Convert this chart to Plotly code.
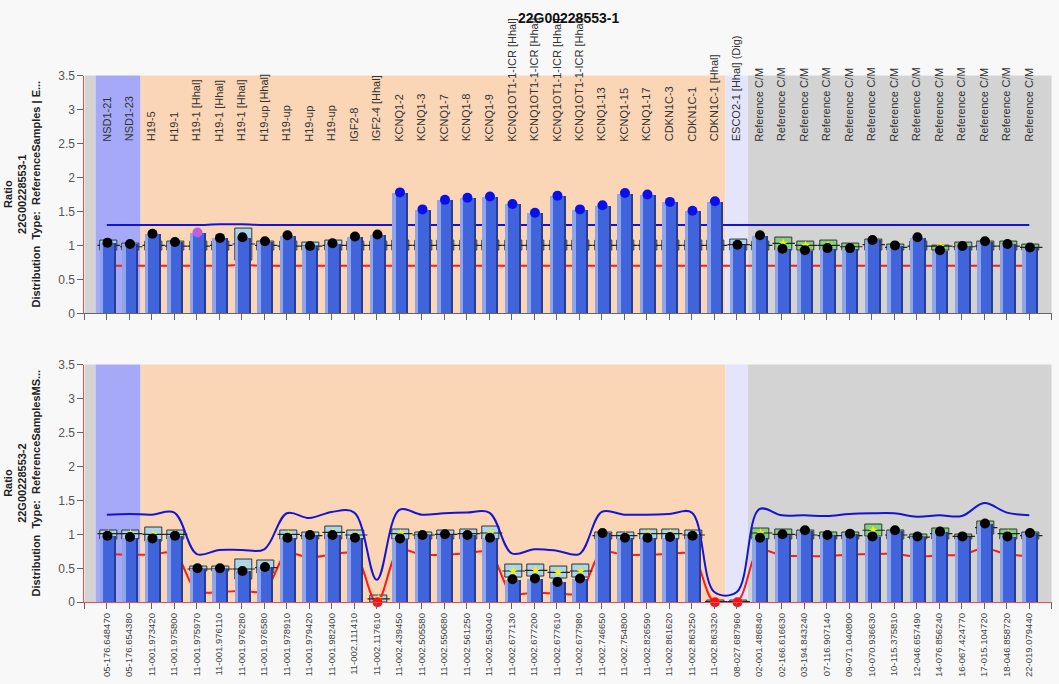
import plotly.graph_objects as go

title = "22G00228553-1"

probe_names = [
    "NSD1-21", "NSD1-23", "H19-5", "H19-1", "H19-1 [Hhal]", "H19-1 [Hhal]", "H19-1 [Hhal]",
    "H19-up [Hhal]", "H19-up", "H19-up", "H19-up", "IGF2-8", "IGF2-4 [Hhal]",
    "KCNQ1-2", "KCNQ1-3", "KCNQ1-7", "KCNQ1-8", "KCNQ1-9",
    "KCNQ1OT1-1-ICR [Hhal]", "KCNQ1OT1-1-ICR [Hhal]", "KCNQ1OT1-1-ICR [Hhal]", "KCNQ1OT1-1-ICR [Hhal]",
    "KCNQ1-13", "KCNQ1-15", "KCNQ1-17", "CDKN1C-3", "CDKN1C-1", "CDKN1C-1 [Hhal]",
    "ESCO2-1 [Hhal] (Dig)",
] + ["Reference C/M"] * 13

probe_positions = [
    "05-176.648470", "05-176.654380", "11-001.973420", "11-001.975800", "11-001.975970",
    "11-001.976110", "11-001.976280", "11-001.976580", "11-001.978910", "11-001.979420",
    "11-001.982400", "11-002.111410", "11-002.117610", "11-002.439450", "11-002.505580",
    "11-002.550680", "11-002.561250", "11-002.563040", "11-002.677130", "11-002.677200",
    "11-002.677610", "11-002.677980", "11-002.746650", "11-002.754800", "11-002.826590",
    "11-002.861620", "11-002.863250", "11-002.863320", "08-027.687960", "02-001.486840",
    "02-166.616630", "03-194.843240", "07-116.907140", "09-071.040800", "10-070.936630",
    "10-115.375810", "12-046.657490", "14-076.856240", "16-067.424770", "17-015.104720",
    "18-046.858720", "22-019.079440",
]

probe_group = ["NSD1"] * 2 + ["11p15"] * 26 + ["ESCO2"] + ["ref"] * 13

# panel 1 (undigested)
top_ratio = [1.04, 1.02, 1.17, 1.05, 1.19, 1.11, 1.12, 1.06, 1.15, 0.99, 1.03, 1.13, 1.16,
             1.78, 1.53, 1.67, 1.70, 1.72, 1.61, 1.48, 1.73, 1.53, 1.59, 1.77, 1.75, 1.64, 1.51, 1.65,
             1.01, 1.15, 0.95, 0.93, 0.96, 0.96, 1.08, 1.00, 1.12, 0.93, 0.99, 1.06, 1.02, 0.97]
top_box_lo = [0.93, 0.93, 0.93, 0.93, 0.93, 0.93, 0.78, 0.93, 0.93, 0.93, 0.93, 0.93, 0.93,
              0.93, 0.93, 0.93, 0.93, 0.93, 0.93, 0.93, 0.93, 0.93, 0.93, 0.93, 0.93, 0.93, 0.93, 0.93,
              0.93, 0.93, 0.93, 0.93, 0.93, 0.93, 0.93, 0.93, 0.93, 0.93, 0.93, 0.93, 0.93, 0.93]
top_box_hi = [1.07, 1.03, 1.06, 1.05, 1.05, 1.06, 1.25, 1.06, 1.05, 1.04, 1.07, 1.06, 1.06,
              1.07, 1.07, 1.07, 1.07, 1.07, 1.07, 1.07, 1.07, 1.07, 1.07, 1.07, 1.07, 1.07, 1.07, 1.07,
              1.09, 1.06, 1.12, 1.05, 1.07, 1.03, 1.08, 1.01, 1.05, 1.00, 1.04, 1.05, 1.05, 1.01]
top_box_mid = [1.00, 0.98, 1.00, 0.99, 0.99, 1.00, 1.02, 1.00, 0.99, 0.99, 1.00, 1.00, 1.00,
               1.00, 1.00, 1.00, 1.00, 1.00, 1.00, 1.00, 1.00, 1.00, 1.00, 1.00, 1.00, 1.00, 1.00, 1.00,
               1.01, 1.00, 1.03, 1.00, 1.00, 0.98, 1.01, 0.97, 0.99, 0.99, 0.98, 0.99, 0.99, 0.97]
top_upper = [1.30, 1.30, 1.30, 1.30, 1.30, 1.31, 1.31, 1.30, 1.30, 1.30, 1.30, 1.30, 1.30,
             1.30, 1.30, 1.30, 1.30, 1.30, 1.30, 1.30, 1.30, 1.30, 1.30, 1.30, 1.30, 1.30, 1.30, 1.30,
             1.30, 1.30, 1.30, 1.30, 1.30, 1.30, 1.30, 1.30, 1.30, 1.30, 1.30, 1.30, 1.30, 1.30]
top_lower = [0.70, 0.70, 0.70, 0.70, 0.70, 0.70, 0.71, 0.70, 0.70, 0.70, 0.70, 0.70, 0.70,
             0.70, 0.70, 0.70, 0.70, 0.70, 0.70, 0.70, 0.70, 0.70, 0.70, 0.70, 0.70, 0.70, 0.70, 0.70,
             0.70, 0.70, 0.70, 0.70, 0.70, 0.70, 0.70, 0.70, 0.70, 0.70, 0.70, 0.70, 0.70, 0.70]

# panel 2 (digested)
bottom_ratio = [0.98, 0.96, 0.94, 0.98, 0.50, 0.50, 0.46, 0.52, 0.95, 0.99, 0.99, 0.95, 0.00,
                0.94, 0.99, 1.00, 0.99, 0.95, 0.34, 0.35, 0.30, 0.35, 1.02, 0.95, 0.95, 0.96, 0.98,
                0.00, 0.00,
                0.95, 1.00, 1.06, 0.99, 1.01, 0.97, 1.06, 0.97, 1.04, 0.97, 1.16, 0.97, 1.02]
bottom_box_lo = [0.93, 0.93, 0.90, 0.93, 0.45, 0.45, 0.34, 0.42, 0.93, 0.93, 0.93, 0.93, 0.00,
                 0.93, 0.93, 0.93, 0.93, 0.93, 0.37, 0.38, 0.35, 0.36, 0.93, 0.93, 0.93, 0.93, 0.93,
                 0.00, 0.00,
                 0.93, 0.93, 0.93, 0.93, 0.93, 0.97, 0.93, 0.93, 0.93, 0.93, 1.00, 0.93, 0.93]
bottom_box_hi = [1.05, 1.05, 1.10, 1.05, 0.52, 0.52, 0.63, 0.61, 1.05, 1.02, 1.11, 1.05, 0.10,
                 1.07, 1.03, 1.06, 1.07, 1.12, 0.55, 0.56, 0.53, 0.56, 1.02, 1.02, 1.07, 1.07, 1.05,
                 0.02, 0.02,
                 1.08, 1.07, 1.05, 1.02, 1.03, 1.15, 1.05, 0.99, 1.08, 1.00, 1.19, 1.07, 1.03]
bottom_box_mid = [1.01, 1.01, 1.00, 1.00, 0.49, 0.49, 0.49, 0.51, 1.00, 0.98, 1.03, 0.99, 0.05,
                  1.01, 0.99, 1.00, 1.01, 1.02, 0.46, 0.47, 0.44, 0.46, 0.98, 0.98, 1.01, 1.01, 0.99,
                  0.01, 0.01,
                  1.02, 1.00, 0.99, 0.98, 0.98, 1.06, 0.99, 0.96, 1.01, 0.97, 1.10, 1.01, 0.98]
bottom_upper = [1.29, 1.30, 1.29, 1.32, 0.71, 0.77, 0.77, 0.78, 1.31, 1.24, 1.33, 1.32, 0.33,
                1.36, 1.29, 1.31, 1.32, 1.32, 0.72, 0.78, 0.76, 0.71, 1.33, 1.29, 1.29, 1.30, 1.32,
                0.15, 0.15,
                1.37, 1.28, 1.28, 1.27, 1.30, 1.31, 1.31, 1.26, 1.28, 1.27, 1.46, 1.32, 1.28]
bottom_lower = [0.71, 0.70, 0.70, 0.72, 0.17, 0.15, 0.17, 0.17, 0.71, 0.66, 0.70, 0.71, 0.00,
                0.76, 0.70, 0.70, 0.72, 0.73, 0.14, 0.14, 0.13, 0.14, 0.73, 0.70, 0.70, 0.71, 0.70,
                0.00, 0.00,
                0.76, 0.69, 0.68, 0.68, 0.70, 0.71, 0.71, 0.67, 0.69, 0.70, 0.79, 0.71, 0.68]

ytitles = [
    "<b>Ratio</b><br><b>22G00228553-1</b><br><b>Distribution&nbsp; Type:&nbsp; ReferenceSamples | E...</b>",
    "<b>Ratio</b><br><b>22G00228553-2</b><br><b>Distribution&nbsp; Type:&nbsp; ReferenceSamplesMS...</b>",
]

cats = list(range(1, len(probe_names) + 1))
n = len(cats)
FONT = "Liberation Sans, Arial, sans-serif"
band_colors = {"NSD1": "#a6a9f8", "11p15": "#fad6b6", "ESCO2": "#e4e4fb", "ref": "#d3d3d3"}
W, H = 1059, 684
x_dom = [84.3 / W, 1051.8 / W]
y_doms = [[1 - 312.7 / H, 1 - 70 / H], [1 - 607.7 / H, 1 - 365 / H]]

fig = go.Figure()
shapes = []
annotations = []

panels = [
    (top_ratio, top_box_lo, top_box_hi, top_box_mid, top_upper, top_lower),
    (bottom_ratio, bottom_box_lo, bottom_box_hi, bottom_box_mid, bottom_upper, bottom_lower),
]

for p, (ratio, blo, bhi, bmid, up, lo) in enumerate(panels):
    xa = "x" if p == 0 else "x2"
    ya = "y" if p == 0 else "y2"
    yo = "y3" if p == 0 else "y4"

    # background bands
    shapes.append(dict(type="rect", xref=xa, yref=ya + " domain", x0=0, x1=0.5, y0=0, y1=1,
                       fillcolor="#d3d3d3", line_width=0, layer="below"))
    start = 0
    for i in range(1, n + 1):
        if i == n or probe_group[i] != probe_group[start]:
            x1 = i + 0.5 if i < n else n + 1
            shapes.append(dict(type="rect", xref=xa, yref=ya + " domain", x0=start + 0.5, x1=x1,
                               y0=0, y1=1, fillcolor=band_colors[probe_group[start]],
                               line_width=0, layer="below"))
            start = i

    # reference range boxes, sitting behind the sample bars
    box_col = ["#7fd37f" if g == "ref" else "#a9d6ee" for g in probe_group]
    fig.add_trace(go.Bar(x=cats, y=[h - l for h, l in zip(bhi, blo)], base=blo, width=0.75, offset=-0.29,
                         marker=dict(color=box_col, line=dict(color="#333333", width=1)),
                         xaxis=xa, yaxis=ya, showlegend=False, hoverinfo="skip"))
    fig.add_trace(go.Scatter(x=cats, y=lo, mode="lines", line=dict(color="#ff1a1a", width=2, shape="spline"),
                             xaxis=xa, yaxis=ya, showlegend=False))
    fig.add_trace(go.Scatter(x=cats, y=up, mode="lines", line=dict(color="#1414d2", width=2, shape="spline"),
                             xaxis=xa, yaxis=ya, showlegend=False))
    fig.add_trace(go.Scatter(x=[c + 0.085 for c in cats], y=bmid, mode="markers",
                             marker=dict(symbol="line-ew", size=16, line=dict(color="#222222", width=1.2)),
                             xaxis=xa, yaxis=ya, showlegend=False))
    fig.add_trace(go.Scatter(x=[c + 0.06 for c in cats], y=bmid, mode="markers",
                             marker=dict(symbol="star", size=7, color="#f4f400"),
                             xaxis=xa, yaxis=ya, showlegend=False))

    # sample bars with a lighter left strip and a dark right edge
    fig.add_trace(go.Bar(x=cats, y=ratio, width=0.70, offset=-0.30, marker=dict(color="#8ea5ec", line_width=0),
                         xaxis=xa, yaxis=yo, showlegend=False))
    fig.add_trace(go.Bar(x=cats, y=ratio, width=0.49, offset=-0.15, marker=dict(color="#3f64dc", line_width=0),
                         xaxis=xa, yaxis=yo, showlegend=False))
    fig.add_trace(go.Bar(x=cats, y=ratio, width=0.06, offset=0.34, marker=dict(color="#283c94", line_width=0),
                         xaxis=xa, yaxis=yo, showlegend=False))

    dot_col = []
    for i, v in enumerate(ratio):
        if v > up[i]:
            dot_col.append("#0a10e8")
        elif v <= lo[i]:
            dot_col.append("#ff1010")
        else:
            dot_col.append("black")
    if p == 0:
        dot_col[4] = "#c060d8"  # flagged probe (H19-1 [Hhal])
    fig.add_trace(go.Scatter(x=[c + 0.03 for c in cats], y=ratio, mode="markers", cliponaxis=False,
                             marker=dict(size=10, color=dot_col),
                             xaxis=xa, yaxis=yo, showlegend=False))

    annotations.append(dict(xref="paper", yref="paper", x=22 / W, y=sum(y_doms[p]) / 2,
                            xanchor="center", yanchor="middle",
                            text=ytitles[p], textangle=-90, showarrow=False,
                            font=dict(family=FONT, size=11, color="#222222")))

# probe labels in the first panel
for c, name in zip(cats, probe_names):
    annotations.append(dict(xref="x", yref="y", x=c, y=2.5, text=name, textangle=-90,
                            xanchor="center", yanchor="bottom", showarrow=False,
                            font=dict(family=FONT, size=11, color="#333333")))

annotations.append(dict(xref="paper", yref="paper", x=sum(x_dom) / 2, y=1 - 1 / H,
                        xanchor="center", yanchor="top",
                        text="<b>" + title + "</b>", showarrow=False,
                        font=dict(family=FONT, size=14, color="#111111")))

yticks = [0, 0.5, 1, 1.5, 2, 2.5, 3, 3.5]
ytext = ["0", "0.5", "1", "1.5", "2", "2.5", "3", "3.5"]
yax = dict(range=[0, 3.5], tickvals=yticks, ticktext=ytext, ticks="outside", ticklen=6, tickcolor="#666666",
           showline=True, linecolor="#e05050", linewidth=1, showgrid=False, zeroline=False,
           tickfont=dict(family=FONT, size=12, color="#555555"), fixedrange=True)
xax = dict(range=[0, n + 1], tickvals=list(range(0, n + 2)), ticks="outside", ticklen=6,
           tickcolor="#666666", showgrid=False, zeroline=False, showline=True, fixedrange=True)

fig.update_layout(
    width=W, height=H, autosize=False,
    margin=dict(l=0, r=0, t=0, b=0),
    paper_bgcolor="#f8f8f8", plot_bgcolor="white",
    barmode="overlay", bargap=0, hovermode=False,
    font=dict(family=FONT),
    xaxis=dict(xax, domain=x_dom, anchor="y", showticklabels=False, linecolor="#666666"),
    yaxis=dict(yax, domain=y_doms[0], anchor="x"),
    yaxis3=dict(range=[0, 3.5], overlaying="y", anchor="x", visible=False, fixedrange=True),
    xaxis2=dict(xax, domain=x_dom, anchor="y2", linecolor="#e05050",
                ticktext=[""] + probe_positions + [""], tickangle=-90,
                tickfont=dict(family=FONT, size=9.5, color="#444444")),
    yaxis2=dict(yax, domain=y_doms[1], anchor="x2"),
    yaxis4=dict(range=[0, 3.5], overlaying="y2", anchor="x2", visible=False, fixedrange=True),
    shapes=shapes,
    annotations=annotations,
)

fig.write_html("out.html", config={"displayModeBar": False},
               post_script="document.body.style.margin='0';document.body.style.overflow='hidden';")
